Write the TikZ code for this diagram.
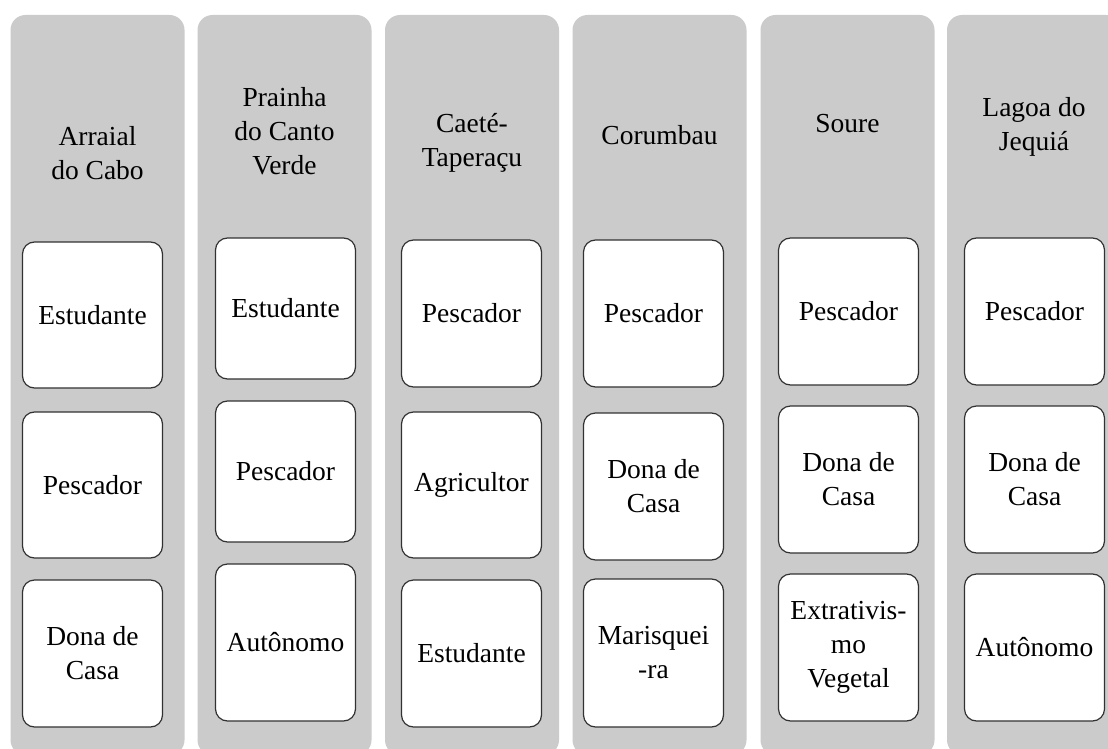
\documentclass[tikz,border=0pt]{standalone}
\usepackage{fontspec}
\setmainfont{Liberation Serif}
\definecolor{colgray}{RGB}{203,203,203}
\definecolor{boxline}{RGB}{50,50,50}
\tikzset{
  column/.style={rectangle, fill=colgray, rounded corners=15pt, inner sep=0pt,
    minimum width=174pt, minimum height=740pt},
  title/.style={align=center, inner sep=0pt, text=black,
    font=\fontsize{27.5}{34}\selectfont},
  item/.style={rectangle, draw=boxline, line width=1.2pt, fill=white,
    rounded corners=12pt, inner sep=0pt, minimum width=140pt,
    align=center, text=black, font=\fontsize{27.5}{34}\selectfont}
}
\begin{document}
\begin{tikzpicture}[x=1pt,y=-1pt]
\useasboundingbox (0,0) rectangle (1108,749);
\clip (0,0) rectangle (1108,749);
\fill[white] (0,0) rectangle (1108,749);
% columns
\node[column] (c1) at (97.5,385) {};
\node[column] (c2) at (284.5,385) {};
\node[column] (c3) at (472,385) {};
\node[column] (c4) at (659.5,385) {};
\node[column] (c5) at (847.5,385) {};
\node[column] (c6) at (1034,385) {};
% titles
\node[title] (t1) at (97.5,153.5) {Arraial\\do Cabo};
\node[title] (t2) at (284.5,131.5) {Prainha\\do Canto\\Verde};
\node[title] (t3) at (472,143) {Caeté-\\Taperaçu};
\node[title] (t4) at (659.5,135.5) {Corumbau};
\node[title] (t5) at (847.5,124) {Soure};
\node[title] (t6) at (1034,127) {Lagoa do\\Jequiá};
% column 1
\node[item, minimum height=146pt] (b11) at (92.5,315) {Estudante};
\node[item, minimum height=146pt] (b12) at (92.5,485) {Pescador};
\node[item, minimum height=147pt] (b13) at (92.5,653.5) {Dona de\\Casa};
% column 2
\node[item, minimum height=141pt] (b21) at (285.5,308.5) {Estudante};
\node[item, minimum height=141pt] (b22) at (285.5,471.5) {Pescador};
\node[item, minimum height=157pt] (b23) at (285.5,642.5) {Autônomo};
% column 3
\node[item, minimum height=147pt] (b31) at (471.5,313.5) {Pescador};
\node[item, minimum height=146pt] (b32) at (471.5,485) {Agricultor};
\node[item, minimum height=147pt] (b33) at (471.5,653.5) {Estudante};
% column 4
\node[item, minimum height=147pt] (b41) at (653.5,313.5) {Pescador};
\node[item, minimum height=147pt] (b42) at (653.5,486.5) {Dona de\\Casa};
\node[item, minimum height=148pt] (b43) at (653.5,653) {Marisquei\\-ra};
% column 5
\node[item, minimum height=147pt] (b51) at (848.5,311.5) {Pescador};
\node[item, minimum height=147pt] (b52) at (848.5,479.5) {Dona de\\Casa};
\node[item, minimum height=147pt] (b53) at (848.5,647.5) {Extrativis-\\mo\\Vegetal};
% column 6
\node[item, minimum height=147pt] (b61) at (1034.5,311.5) {Pescador};
\node[item, minimum height=147pt] (b62) at (1034.5,479.5) {Dona de\\Casa};
\node[item, minimum height=147pt] (b63) at (1034.5,647.5) {Autônomo};
\end{tikzpicture}
\end{document}
